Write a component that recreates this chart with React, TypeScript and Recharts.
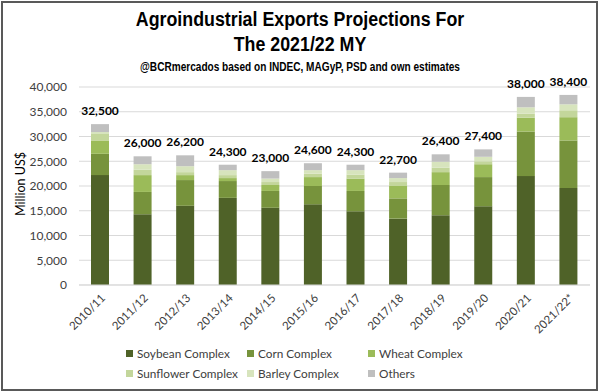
import { BarChart, Bar, XAxis, YAxis, CartesianGrid, LabelList } from "recharts"

// Campañas comerciales
const seasons = [
  "2010/11", "2011/12", "2012/13", "2013/14", "2014/15", "2015/16",
  "2016/17", "2017/18", "2018/19", "2019/20", "2020/21", "2021/22*",
]

// Millones de US$ por complejo
const soybean = [22200, 14300, 16000, 17600, 15600, 16300, 14900, 13400, 14100, 15900, 22000, 19600]
const corn = [4300, 4500, 5200, 3400, 3400, 3700, 4100, 4100, 6100, 5900, 9000, 9600]
const wheat = [2700, 3400, 1000, 600, 1200, 1800, 2500, 2500, 2600, 2600, 2800, 4700]
const sunflower = [1300, 1100, 600, 600, 600, 700, 800, 800, 900, 600, 800, 1400]
const barley = [400, 1100, 1200, 1000, 700, 700, 900, 800, 1200, 900, 1300, 1200]
const others = [1600, 1600, 2200, 1100, 1500, 1400, 1100, 1100, 1500, 1500, 2100, 1900]
const totals = [32500, 26000, 26200, 24300, 23000, 24600, 24300, 22700, 26400, 27400, 38000, 38400]

const yTicks = [0, 5000, 10000, 15000, 20000, 25000, 30000, 35000, 40000]

const series = [
  { key: "soybean", name: "Soybean Complex", color: "#4f6228" },
  { key: "corn", name: "Corn Complex", color: "#77933c" },
  { key: "wheat", name: "Wheat Complex", color: "#9bbb59" },
  { key: "sunflower", name: "Sunflower Complex", color: "#c3d69b" },
  { key: "barley", name: "Barley Complex", color: "#d7e4bd" },
  { key: "others", name: "Others", color: "#bfbfbf" },
]

const data = seasons.map((season, i) => ({
  season,
  soybean: soybean[i],
  corn: corn[i],
  wheat: wheat[i],
  sunflower: sunflower[i],
  barley: barley[i],
  others: others[i],
  total: totals[i],
}))

const fmt = (v: number) => v.toLocaleString("en-US")

const bodyFont = "Lato, 'Open Sans', sans-serif"
const titleFont = "'Liberation Sans Narrow', 'Liberation Sans', sans-serif"

function LegendBox() {
  return (
    <div style={{ position: "absolute", left: 126, top: 346, width: 363 }}>
      {series.map((s, i) => (
        <div
          key={s.key}
          style={{
            position: "absolute",
            left: (i % 3) * 121,
            top: Math.floor(i / 3) * 20,
            display: "flex",
            alignItems: "center",
            whiteSpace: "nowrap",
            fontSize: 11.8,
            color: "#404040",
            fontFamily: bodyFont,
          }}
        >
          <span style={{ width: 7, height: 7, background: s.color, marginRight: 4, display: "inline-block" }} />
          {s.name}
        </div>
      ))}
    </div>
  )
}

export default function App() {
  return (
    <div style={{ position: "absolute", left: 0, top: 0, width: 600, height: 392, background: "#fff", fontFamily: bodyFont }}>
      <div
        style={{
          position: "absolute", left: 1, top: 1, width: 597, height: 390,
          border: "2px solid #595959", boxSizing: "border-box",
        }}
      />
      <div style={{ position: "absolute", left: 0, top: 7, width: 600, textAlign: "center", fontFamily: titleFont, fontWeight: "bold", fontSize: 20, lineHeight: "25px", color: "#000", transform: "scaleX(0.89)" }}>
        Agroindustrial Exports Projections For
        <br />
        The 2021/22 MY
      </div>
      <div style={{ position: "absolute", left: 0, top: 60, width: 600, textAlign: "center", fontFamily: titleFont, fontWeight: "bold", fontSize: 12, color: "#000", transform: "scaleX(0.84)" }}>
        @BCRmercados based on INDEC, MAGyP, PSD and own estimates
      </div>
      <div
        style={{
          position: "absolute", left: 20, top: 184, transform: "translate(-50%, -50%) rotate(-90deg)",
          fontSize: 12.5, color: "#000", whiteSpace: "nowrap",
        }}
      >
        Million US$
      </div>

      <div style={{ position: "absolute", left: 0, top: 0 }}>
        <BarChart width={600} height={392} data={data} margin={{ top: 87, right: 10, bottom: 57, left: 19 }}>
          <CartesianGrid vertical={false} stroke="#d9d9d9" />
          <XAxis
            dataKey="season"
            height={50}
            interval={0}
            angle={-45}
            textAnchor="end"
            tickLine={false}
            axisLine={{ stroke: "#d9d9d9" }}
            tick={{ fontSize: 11.5, fill: "#404040", fontFamily: bodyFont }}
          />
          <YAxis
            width={60}
            domain={[0, 40000]}
            ticks={yTicks}
            tickFormatter={fmt}
            axisLine={false}
            tickLine={false}
            tickMargin={6}
            tick={{ fontSize: 12, fill: "#404040", fontFamily: bodyFont }}
          />
          {series.map((s, i) => (
            <Bar key={s.key} dataKey={s.key} name={s.name} stackId="a" fill={s.color} barSize={18} isAnimationActive={false}>
              {i === series.length - 1 && (
                <LabelList
                  dataKey="total"
                  position="top"
                  offset={9}
                  formatter={(v: any) => fmt(Number(v))}
                  style={{ fontSize: 12, fontWeight: "bold", fill: "#000", fontFamily: bodyFont }}
                />
              )}
            </Bar>
          ))}
        </BarChart>
      </div>
      <LegendBox />
    </div>
  )
}
